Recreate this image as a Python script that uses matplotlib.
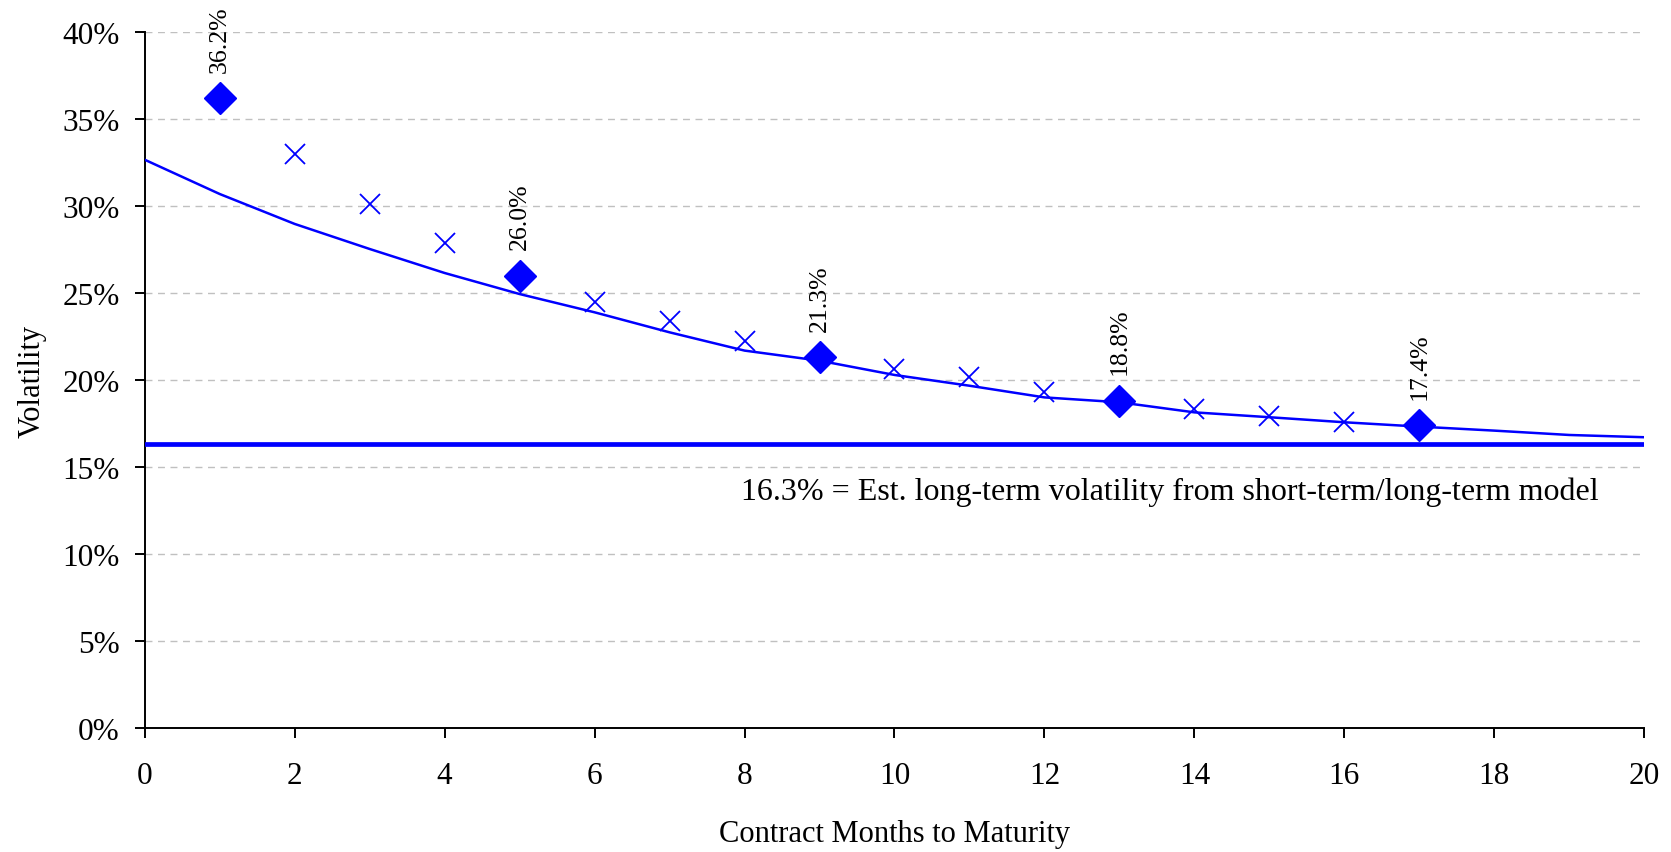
import matplotlib
matplotlib.use("Agg")
import matplotlib.pyplot as plt
from matplotlib.ticker import FuncFormatter, MultipleLocator

plt.rcParams['font.family'] = ['Liberation Serif', 'DejaVu Serif']

# Fitted model curve (months 0..20)
curve_months = list(range(0, 21))
curve_vol = [32.66, 30.69, 28.97, 27.53, 26.15, 24.94, 23.89, 22.74, 21.69, 21.11,
             20.29, 19.67, 19.00, 18.72, 18.14, 17.86, 17.57, 17.32, 17.09, 16.84, 16.71]

# Observed volatilities (cross markers)
obs_months = [2, 3, 4, 6, 7, 8, 10, 11, 12, 14, 15, 16]
obs_vol = [33.0, 30.1, 27.85, 24.5, 23.37, 22.22, 20.63, 20.15, 19.3, 18.33, 17.95, 17.6]

# Highlighted observations (diamonds with labels)
hl_months = [1, 5, 9, 13, 17]
hl_vol = [36.2, 26.0, 21.3, 18.8, 17.4]

long_term = 16.3
annot_text = "16.3% = Est. long-term volatility from short-term/long-term model"

blue = '#0000FF'

fig = plt.figure(figsize=(16.71, 8.53), dpi=100)
ax = fig.add_axes([0.0866, 0.1454, 0.9840 - 0.0866, 0.9613 - 0.1454])

ax.plot(curve_months, [v / 100 for v in curve_vol], color=blue, lw=1.8, zorder=3)
ax.plot([0, 20], [long_term / 100] * 2, color=blue, lw=3.4, solid_capstyle='round', zorder=3)
ax.plot(obs_months, [v / 100 for v in obs_vol], linestyle='none', marker='x',
        color=blue, markersize=15, markeredgewidth=1.3, zorder=4)
ax.plot(hl_months, [v / 100 for v in hl_vol], linestyle='none', marker='D',
        color=blue, markersize=16.5, zorder=5)
for m, v in zip(hl_months, hl_vol):
    ax.annotate(f"{v:.1f}%", xy=(m, v / 100), xytext=(0, 19), textcoords='offset points',
                rotation=90, ha='center', va='bottom', fontsize=18.5, color='black')

ax.text(7.95, 0.136, annot_text, ha='left', va='center', fontsize=23, color='black')

ax.set_xlim(0, 20)
ax.set_ylim(0, 0.40)
ax.xaxis.set_major_locator(MultipleLocator(2))
ax.yaxis.set_major_locator(MultipleLocator(0.05))
ax.yaxis.set_major_formatter(FuncFormatter(lambda y, p: f"{y * 100:.0f}%"))

ax.grid(axis='y', color='#c0c0c0', linestyle=(0, (5, 4)), linewidth=1.0, zorder=0)
ax.set_axisbelow(True)

for s in ['top', 'right']:
    ax.spines[s].set_visible(False)
for s in ['left', 'bottom']:
    ax.spines[s].set_color('black')
    ax.spines[s].set_linewidth(1.4)

ax.tick_params(axis='both', direction='out', length=7, width=1.4, labelsize=22.5, colors='black')
ax.tick_params(axis='x', pad=17)
ax.tick_params(axis='y', pad=11)

ax.set_xlabel("Contract Months to Maturity", fontsize=22, labelpad=21)
ax.set_ylabel("Volatility", fontsize=22, labelpad=11)

fig.savefig("out.png", dpi=100, facecolor='white')
